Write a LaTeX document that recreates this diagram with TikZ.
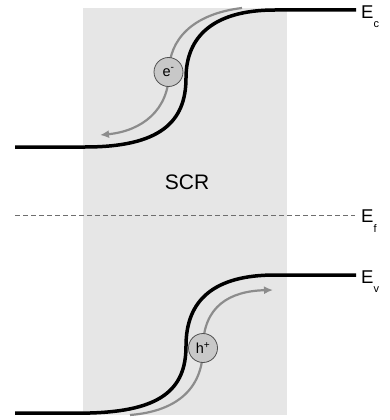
\documentclass[tikz,border=0pt]{standalone}
\usepackage{fontspec}
\setmainfont{Liberation Sans}
\usetikzlibrary{arrows.meta,positioning,calc}
\definecolor{bdRegion}{HTML}{E6E6E6}
\definecolor{bdBand}{HTML}{000000}
\definecolor{bdFlow}{HTML}{8C8C8C}
\definecolor{bdBall}{HTML}{C8C8C8}
\definecolor{bdBallEdge}{HTML}{505050}
\definecolor{bdFermi}{HTML}{6E6E6E}
\newcommand{\bdSub}[1]{\raisebox{-9.5pt}{\fontsize{11}{11}\selectfont #1}}
\tikzset{
    % Bands and levels
    bdBandLine/.style={draw=bdBand, line width=3.5pt},
    bdFermiLine/.style={draw=bdFermi, line width=0.8pt, dash pattern=on 5pt off 3pt},
    % Carriers
    bdCarrier/.style={
        circle,
        draw=bdBallEdge,
        fill=bdBall,
        line width=0.8pt,
        minimum size=29pt,
        inner sep=0pt,
        font=\fontsize{14.5}{14.5}\selectfont
    },
    bdFlowArrow/.style={-{Latex[length=9pt,width=8pt]}, draw=bdFlow, line width=2.2pt},
    % Labels
    bdLevelLabel/.style={anchor=base west, inner sep=0pt, font=\fontsize{18.5}{20}\selectfont},
    bdRegionLabel/.style={font=\fontsize{21}{24}\selectfont}
}
\begin{document}
\begin{tikzpicture}[x=1pt, y=-1pt]
    \useasboundingbox (0,0) rectangle (390,420);
    % space charge region
    \fill[bdRegion] (83,8) rectangle (287,415);
    \node[bdRegionLabel] (scr) at (187,182) {SCR};

    % electron drifting down the conduction band
    \draw[bdFlowArrow] (242,8) .. controls (192,14) and (169,40) .. (169,72)
        .. controls (169,110) and (142,131) .. (100,135);
    \node[bdCarrier] (elec) at (168.5,72) {e\textsuperscript{-}};

    % hole drifting up the valence band
    \draw[bdFlowArrow] (130,415) .. controls (180,411) and (203,386) .. (203,348)
        .. controls (203,306) and (230,291) .. (273,290);
    \node[bdCarrier] (hole) at (203,348) {h\textsuperscript{+}};

    % conduction band
    \draw[bdBandLine] (15,147) -- (85,147) .. controls (160,147) and (186,122) .. (186,78)
        .. controls (186,36) and (214,10) .. (275,10) -- (356,10);
    % fermi level
    \draw[bdFermiLine] (15,215) -- (355,215);
    % valence band
    \draw[bdBandLine] (15,413) -- (90,413) .. controls (160,411) and (186,390) .. (186,346)
        .. controls (186,300) and (214,275) .. (275,275) -- (356,275);

    \node[bdLevelLabel] (ec) at (361,18.5) {E\bdSub{c}};
    \node[bdLevelLabel] (ef) at (361,222.5) {E\bdSub{f}};
    \node[bdLevelLabel] (ev) at (361,283) {E\bdSub{v}};
\end{tikzpicture}
\end{document}
